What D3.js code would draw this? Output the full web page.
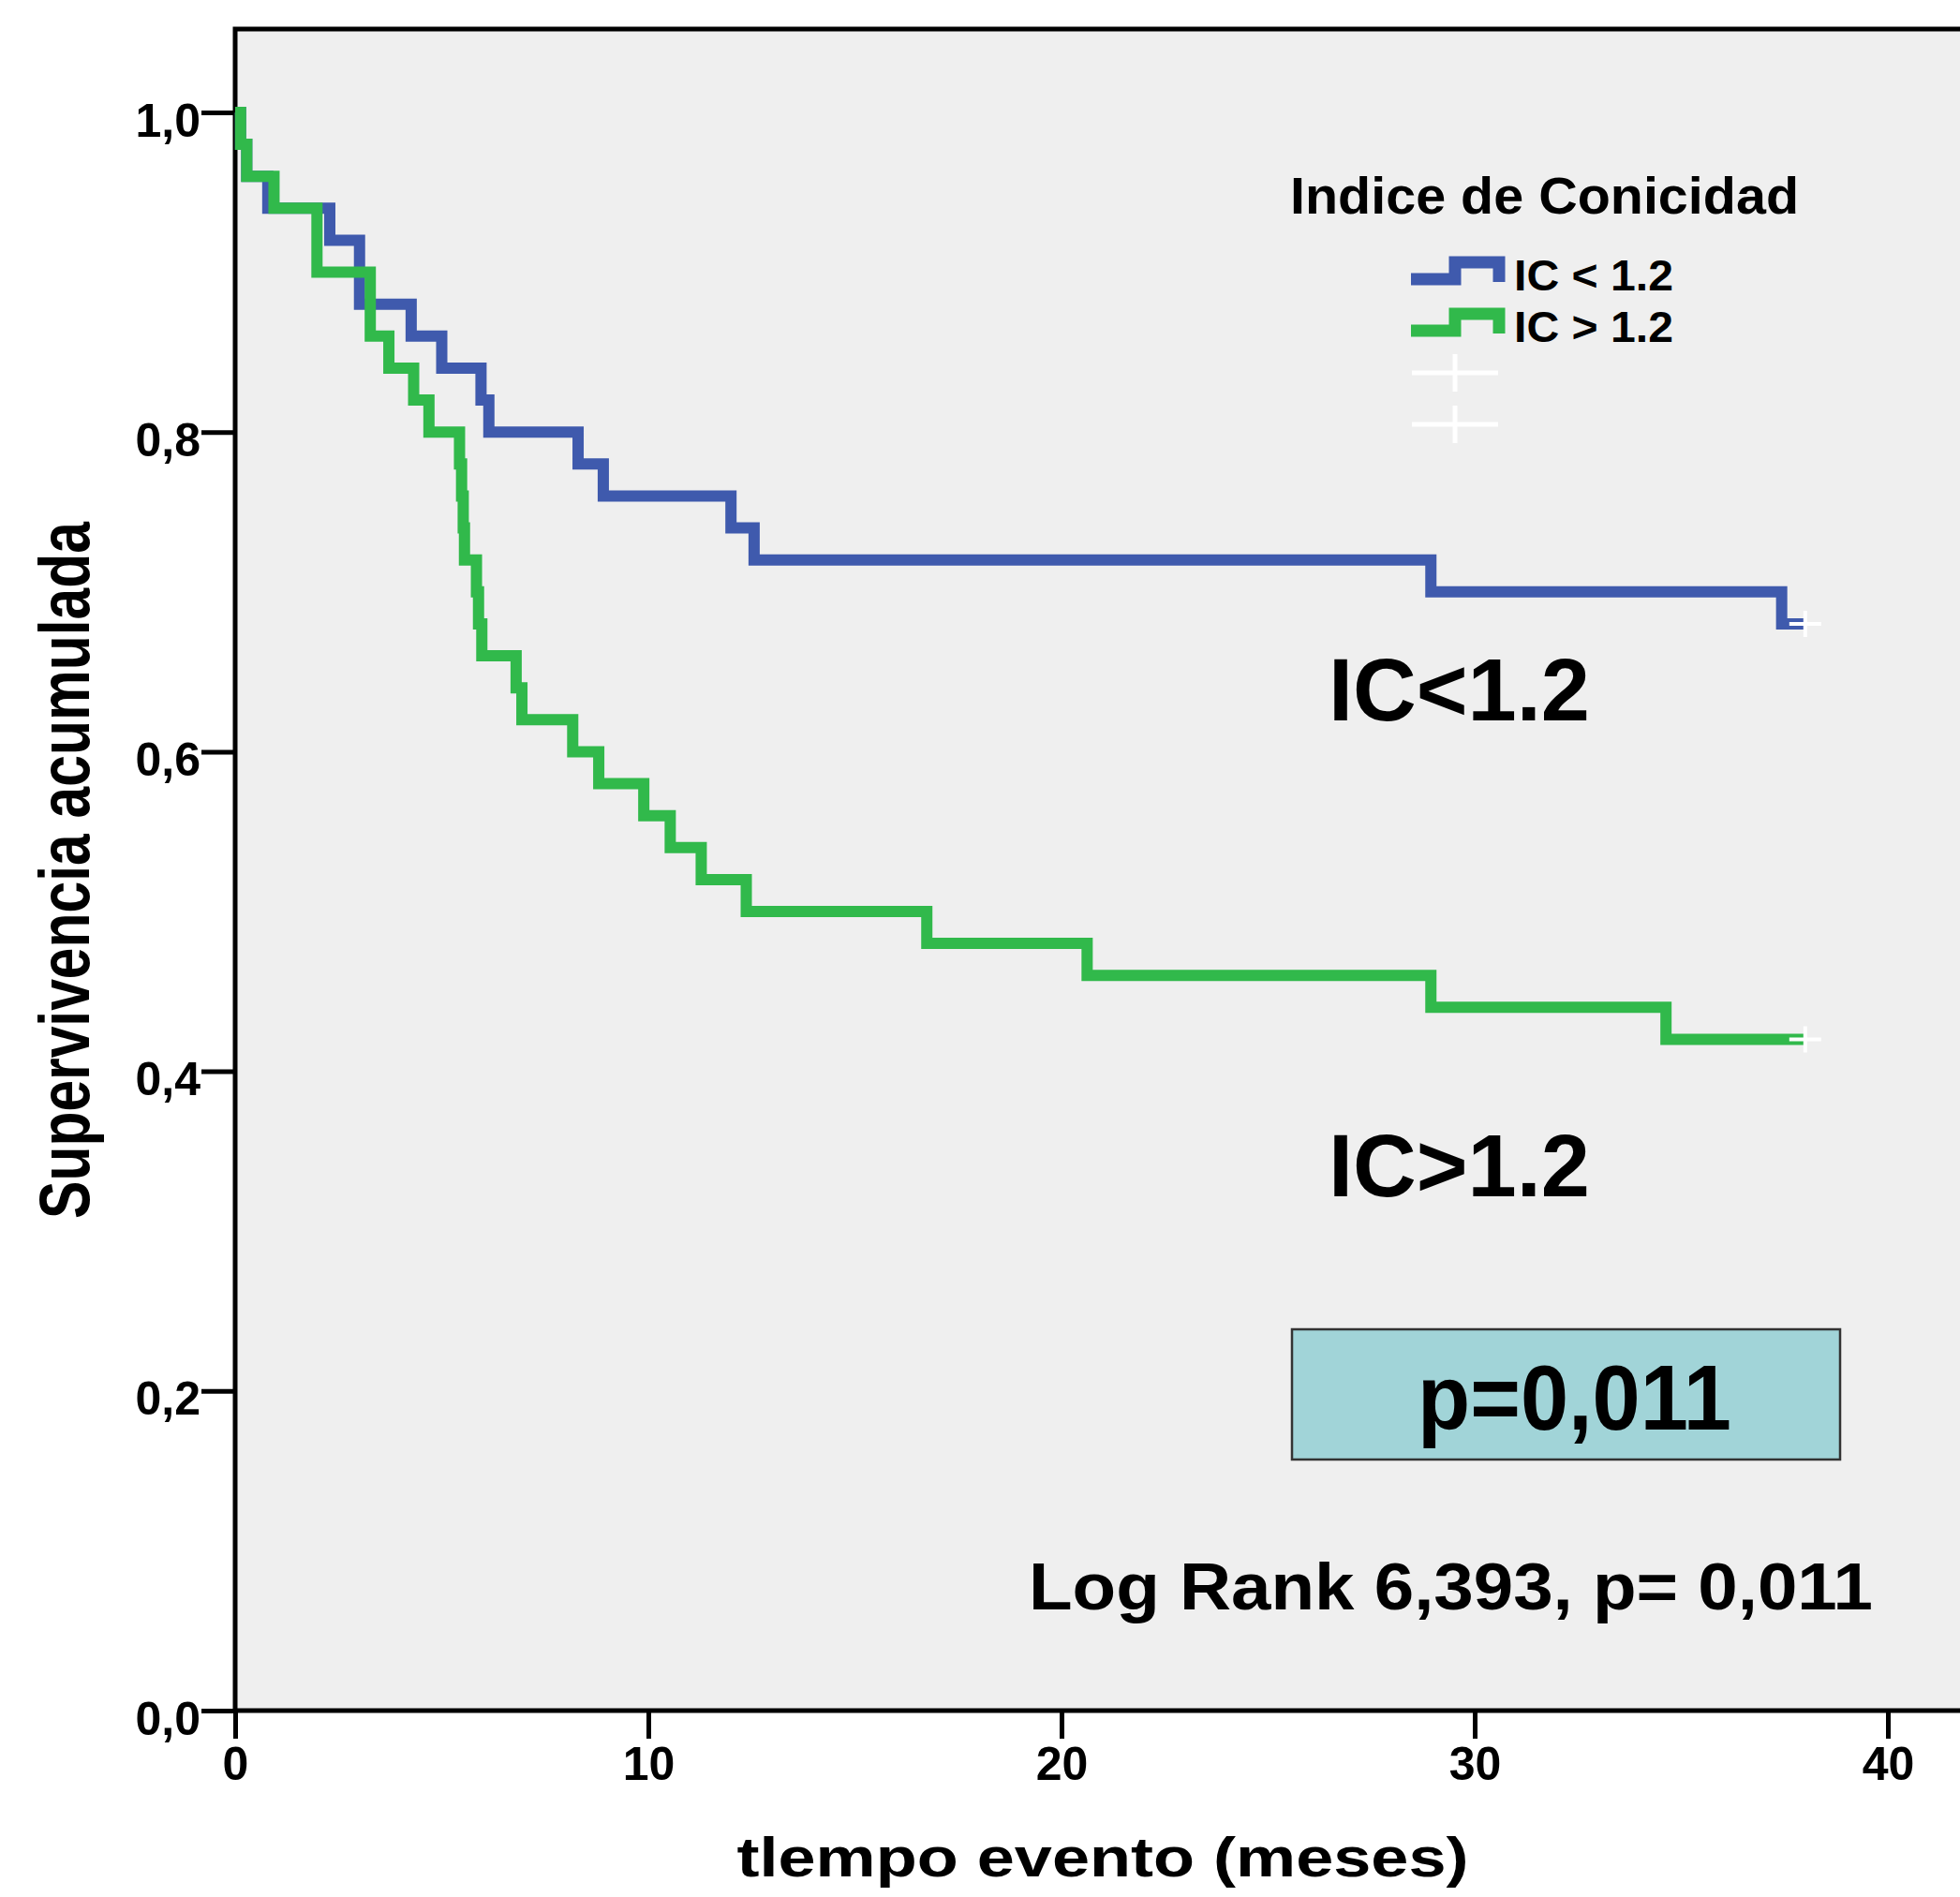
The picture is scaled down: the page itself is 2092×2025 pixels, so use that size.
<!DOCTYPE html>
<html>
<head>
<meta charset="utf-8">
<script src="https://cdn.jsdelivr.net/npm/d3@7"></script>
<style>
  body { margin: 0; background: #fff; }
  text { font-family: "Liberation Sans", Arial, sans-serif; font-weight: bold; fill: #000; }
</style>
</head>
<body>
<div id="chart"></div>
<script>
// Kaplan-Meier steps (months, cumulative survival)
const groups = ["IC < 1.2", "IC > 1.2"];
const blueTimes = [0, 0.13, 0.28, 0.79, 2.29, 3.01, 4.26, 5.0, 5.95, 6.14, 8.30, 8.91, 12.0, 12.56, 28.94, 37.43, 38.0];
const blueSurv  = [1.0, 0.98, 0.96, 0.94, 0.92, 0.88, 0.86, 0.84, 0.82, 0.80, 0.78, 0.76, 0.74, 0.72, 0.70, 0.68, 0.68];
const greenTimes = [0, 0.13, 0.28, 0.94, 1.98, 3.27, 3.72, 4.32, 4.69, 5.43, 5.48, 5.52, 5.55, 5.84, 5.89, 5.97,
                    6.80, 6.94, 8.17, 8.80, 9.89, 10.53, 11.28, 12.37, 16.74, 20.62, 28.94, 34.63, 38.0];
const greenSurv  = [1.0, 0.98, 0.96, 0.94, 0.90, 0.86, 0.84, 0.82, 0.80, 0.78, 0.76, 0.74, 0.72, 0.70, 0.68, 0.66,
                    0.64, 0.62, 0.60, 0.58, 0.56, 0.54, 0.52, 0.50, 0.48, 0.46, 0.44, 0.42, 0.42];
const censorTime = 38.0;
const xTicks = [0, 10, 20, 30, 40];
const yTicks = [0, 0.2, 0.4, 0.6, 0.8, 1.0];
const colors = ["#3f5aad", "#31b94b"];

const width = 2092, height = 2025;

let svg = d3.select("#chart")
  .append("svg")
  .attr("width", width)
  .attr("height", height);

// Scales
let x = d3.scaleLinear().domain([0, 40]).range([251, 2015]);
let y = d3.scaleLinear().domain([0, 1]).range([1826, 120]);

// Plot background + frame (right side runs off the picture)
svg.append("rect")
  .attr("x", x(0))
  .attr("y", 31)
  .attr("width", 2200)
  .attr("height", y(0) - 31)
  .attr("fill", "#efefef")
  .attr("stroke", "#000")
  .attr("stroke-width", 5);

// Axes
let commaFmt = d => d3.format(".1f")(d).replace(".", ",");

let xAxis = svg.append("g")
  .attr("transform", "translate(0," + y(0) + ")")
  .call(d3.axisBottom(x).tickValues(xTicks).tickSize(30).tickPadding(8).tickFormat(d3.format("d")));
xAxis.select(".domain").remove();
xAxis.selectAll(".tick line").attr("stroke", "#000").attr("stroke-width", 5);
xAxis.selectAll(".tick text")
  .attr("font-size", 50)
  .attr("fill", "#000");

let yAxis = svg.append("g")
  .attr("transform", "translate(" + x(0) + ",0)")
  .call(d3.axisLeft(y).tickValues(yTicks).tickSize(36).tickPadding(1).tickFormat(commaFmt));
yAxis.select(".domain").remove();
yAxis.selectAll(".tick line").attr("stroke", "#000").attr("stroke-width", 5);
yAxis.selectAll(".tick text")
  .attr("font-size", 50)
  .attr("dy", "0.5em")
  .attr("fill", "#000");

// Axis titles
svg.append("text")
  .attr("x", 1177)
  .attr("y", 2003)
  .attr("text-anchor", "middle")
  .attr("font-size", 60)
  .attr("textLength", 781)
  .attr("lengthAdjust", "spacingAndGlyphs")
  .text("tlempo evento (meses)");

svg.append("text")
  .attr("transform", "translate(95,929) rotate(-90)")
  .attr("text-anchor", "middle")
  .attr("font-size", 76)
  .attr("textLength", 744)
  .attr("lengthAdjust", "spacingAndGlyphs")
  .text("Supervivencia acumulada");

// Survival curves
let series = [
  { name: groups[0], color: colors[0], pts: blueTimes.map((t, i) => ({ t: t, s: blueSurv[i] })) },
  { name: groups[1], color: colors[1], pts: greenTimes.map((t, i) => ({ t: t, s: greenSurv[i] })) }
];

let stepLine = d3.line()
  .curve(d3.curveStepAfter)
  .x(d => x(d.t))
  .y(d => y(d.s));

svg.selectAll(".km")
  .data(series)
  .enter()
  .append("path")
  .attr("class", "km")
  .attr("fill", "none")
  .attr("stroke", d => d.color)
  .attr("stroke-width", 12)
  .attr("stroke-linejoin", "miter")
  .attr("d", d => stepLine(d.pts));

// Censored marks at the end of each curve
series.forEach(function (d) {
  let cx = x(censorTime), cy = y(d.pts[d.pts.length - 1].s);
  svg.append("path")
    .attr("stroke", "#fff")
    .attr("stroke-width", 4)
    .attr("fill", "none")
    .attr("d", "M" + (cx - 17) + "," + cy + "H" + (cx + 17) + "M" + cx + "," + (cy - 14) + "V" + (cy + 14));
});

// Legend
svg.append("text")
  .attr("x", 1377)
  .attr("y", 228)
  .attr("font-size", 56)
  .attr("textLength", 543)
  .attr("lengthAdjust", "spacingAndGlyphs")
  .text("Indice de Conicidad");

let legend = svg.selectAll(".legend-item")
  .data(series)
  .enter()
  .append("g")
  .attr("class", "legend-item")
  .attr("transform", (d, i) => "translate(0," + (i * 55) + ")");

legend.append("path")
  .attr("fill", "none")
  .attr("stroke", d => d.color)
  .attr("stroke-width", 13)
  .attr("d", "M1506,298H1553V280H1600V301");

legend.append("text")
  .attr("x", 1616)
  .attr("y", 310)
  .attr("font-size", 47)
  .attr("textLength", 170)
  .attr("lengthAdjust", "spacingAndGlyphs")
  .text(d => d.name);

// Legend censor symbols (white crosses)
[398, 453].forEach(function (cy) {
  svg.append("path")
    .attr("stroke", "#fff")
    .attr("stroke-width", 5)
    .attr("fill", "none")
    .attr("d", "M1507," + cy + "H1599M1553," + (cy - 20) + "V" + (cy + 20));
});

// Curve labels
svg.append("text")
  .attr("x", 1418).attr("y", 769)
  .attr("font-size", 95)
  .attr("textLength", 279)
  .attr("lengthAdjust", "spacingAndGlyphs")
  .text("IC<1.2");

svg.append("text")
  .attr("x", 1418).attr("y", 1277)
  .attr("font-size", 95)
  .attr("textLength", 279)
  .attr("lengthAdjust", "spacingAndGlyphs")
  .text("IC>1.2");

// p-value box
svg.append("rect")
  .attr("x", 1379).attr("y", 1419)
  .attr("width", 585).attr("height", 139)
  .attr("fill", "#a1d4d8")
  .attr("stroke", "#333")
  .attr("stroke-width", 2.5);

svg.append("text")
  .attr("x", 1513).attr("y", 1526)
  .attr("font-size", 98)
  .attr("textLength", 335)
  .attr("lengthAdjust", "spacingAndGlyphs")
  .text("p=0,011");

svg.append("text")
  .attr("x", 1098).attr("y", 1718)
  .attr("font-size", 70)
  .attr("textLength", 901)
  .attr("lengthAdjust", "spacingAndGlyphs")
  .text("Log Rank 6,393, p= 0,011");
</script>
</body>
</html>
